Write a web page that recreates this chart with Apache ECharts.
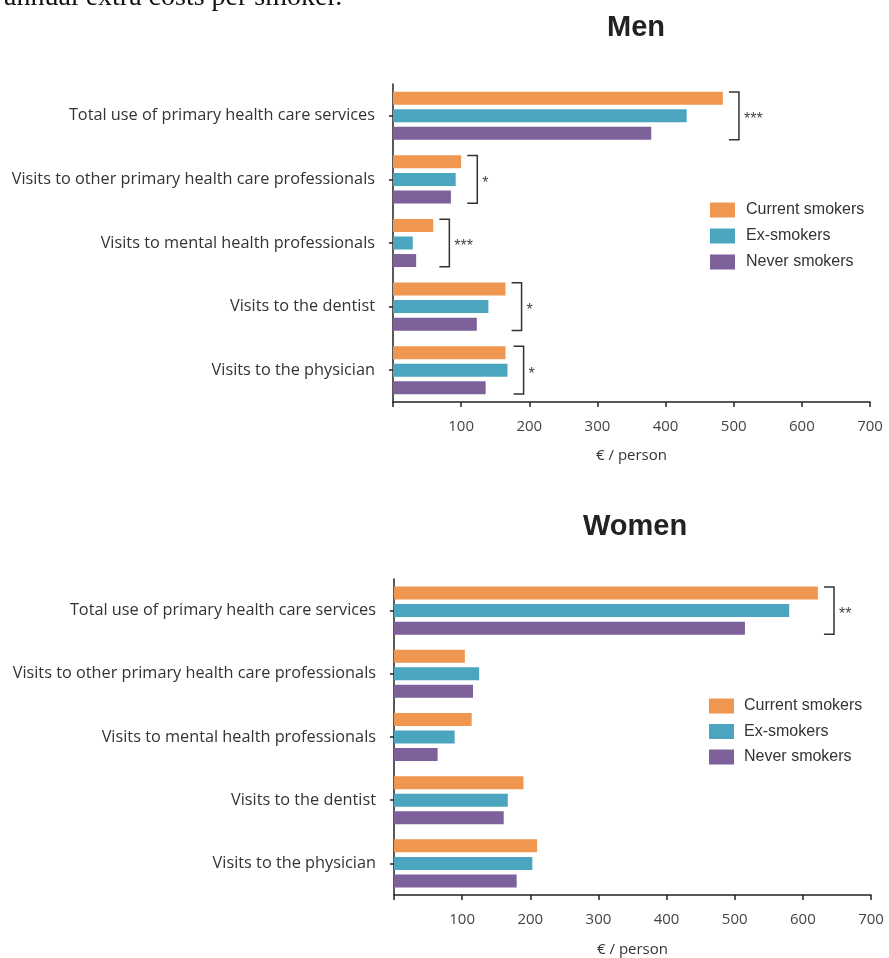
<!DOCTYPE html>
<html>
<head>
<meta charset="utf-8">
<script src="https://cdn.jsdelivr.net/npm/echarts@6/dist/echarts.min.js"></script>
<style>
html,body{margin:0;padding:0;background:#fff;}
#chart{width:889px;height:958px;}
</style>
</head>
<body>
<div id="chart"></div>
<script>
// ---- data ----
const categories = [
  'Total use of primary health care services',
  'Visits to other primary health care professionals',
  'Visits to mental health professionals',
  'Visits to the dentist',
  'Visits to the physician'
];
const seriesNames = ['Current smokers', 'Ex-smokers', 'Never smokers'];
const menCurrent = [484, 100, 59, 165, 165];
const menEx      = [431, 92, 29, 140, 168];
const menNever   = [379, 85, 34, 123, 136];
const womenCurrent = [622, 104, 114, 190, 210];
const womenEx      = [580, 125, 89, 167, 203];
const womenNever   = [515, 116, 64, 161, 180];
const menSig   = ['***', '*', '***', '*', '*'];
const womenSig = ['**', '', '', '', ''];
const xTicks = [0, 100, 200, 300, 400, 500, 600, 700];
const axisName = '€ / person';
const titles = ['Men', 'Women'];
const topText = 'annual extra costs per smoker.';

// ---- styles ----
const colors = ['#EF9650', '#4BA5BE', '#7D619B'];
const labelFont = 'Open Sans';

function bracketData(a, b, c, sig) {
  const out = [];
  for (let i = 0; i < categories.length; i++) {
    if (sig[i]) out.push({ value: [Math.max(a[i], b[i], c[i]) + 9, i], sig: sig[i] });
  }
  return out;
}

function bracketSeries(idx, data) {
  return {
    type: 'custom',
    xAxisIndex: idx, yAxisIndex: idx,
    silent: true,
    data: data,
    renderItem: function (params, api) {
      const p = api.coord([api.value(0), api.value(1)]);
      const band = api.size([0, 1])[1];
      const h = band * 0.375;
      const w = 10;
      const item = data[params.dataIndex];
      return {
        type: 'group',
        children: [
          { type: 'polyline',
            shape: { points: [[p[0], p[1] - h], [p[0] + w, p[1] - h], [p[0] + w, p[1] + h], [p[0], p[1] + h]] },
            style: { stroke: '#333', lineWidth: 1.5, fill: null } },
          { type: 'text',
            style: { x: p[0] + w + 5, y: p[1] + 4, text: item.sig, fill: '#444',
                     font: '16px "Liberation Sans"', textVerticalAlign: 'middle', textAlign: 'left' } }
        ]
      };
    }
  };
}

function barSeries(idx, arrs) {
  return arrs.map((d, k) => ({
    type: 'bar', name: seriesNames[k],
    xAxisIndex: idx, yAxisIndex: idx,
    data: d, barWidth: 13, barGap: '35%',
    itemStyle: { color: colors[k] },
    emphasis: { disabled: true }
  }));
}

function xAxis(idx) {
  return {
    type: 'value', gridIndex: idx, min: xTicks[0], max: xTicks[xTicks.length - 1], interval: 100,
    name: axisName, nameLocation: 'middle', nameGap: idx === 0 ? 46 : 47,
    nameTextStyle: { fontFamily: labelFont, fontSize: 15, color: '#333' },
    axisLine: { show: true, lineStyle: { color: '#222', width: 1.5 } },
    axisTick: { show: true, length: 5, lineStyle: { color: '#222', width: 1.5 } },
    splitLine: { show: false },
    axisLabel: { fontFamily: labelFont, fontSize: 15, color: '#444', margin: 17,
                 formatter: v => (v === 0 ? '' : String(v)) }
  };
}

function yAxis(idx) {
  return {
    type: 'category', gridIndex: idx, data: categories, inverse: true,
    axisLine: { show: true, lineStyle: { color: '#222', width: 1.5 } },
    axisTick: { show: true, alignWithLabel: true, length: 4, lineStyle: { color: '#222', width: 1.5 } },
    axisLabel: { fontFamily: labelFont, fontSize: 16.3, color: '#333', margin: 18 }
  };
}

function legend(top, left, gap, textGap) {
  return {
    data: seriesNames, orient: 'vertical', left: left, top: top,
    itemWidth: 25, itemHeight: 15, itemGap: gap, icon: 'rect',
    textStyle: { fontFamily: 'Liberation Sans', fontSize: 16, color: '#333', padding: [0, 0, 0, textGap] },
    selectedMode: false
  };
}

const chart = echarts.init(document.getElementById('chart'), null, { renderer: 'canvas' });
chart.setOption({
  animation: false,
  backgroundColor: '#fff',
  title: [
    { text: titles[0], left: 631, top: 8, textAlign: 'center',
      textStyle: { fontFamily: 'Liberation Sans', fontWeight: 'bold', fontSize: 29, color: '#222' } },
    { text: titles[1], left: 630, top: 507, textAlign: 'center',
      textStyle: { fontFamily: 'Liberation Sans', fontWeight: 'bold', fontSize: 29, color: '#222' } }
  ],
  graphic: [
    { type: 'text', left: 4, top: -16,
      style: { text: topText, font: '28px "Liberation Serif"', fill: '#111' } }
  ],
  legend: [legend(197, 705, 10, 6), legend(693, 704, 9.5, 5)],
  grid: [
    { left: 393, top: 84, width: 477, height: 318 },
    { left: 394, top: 579, width: 477, height: 318 }
  ],
  xAxis: [xAxis(0), xAxis(1)],
  yAxis: [yAxis(0), yAxis(1)],
  series: [
    ...barSeries(0, [menCurrent, menEx, menNever]),
    ...barSeries(1, [womenCurrent, womenEx, womenNever]),
    bracketSeries(0, bracketData(menCurrent, menEx, menNever, menSig)),
    bracketSeries(1, bracketData(womenCurrent, womenEx, womenNever, womenSig))
  ]
});
</script>
</body>
</html>
